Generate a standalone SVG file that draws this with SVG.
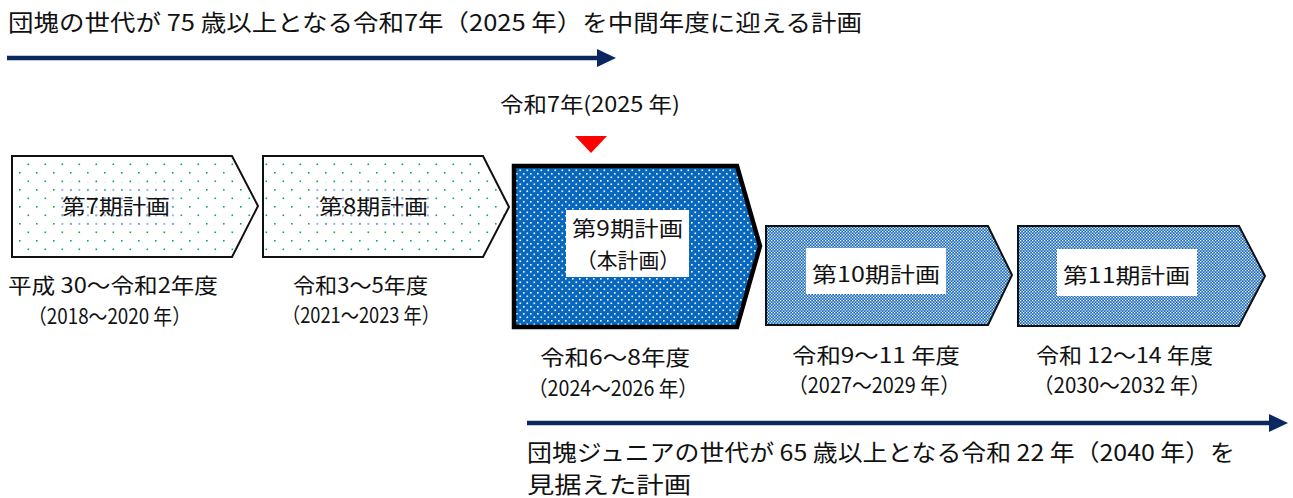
<svg xmlns="http://www.w3.org/2000/svg" width="1293" height="498" viewBox="0 0 1293 498">
<defs>
<style>
text{font-family:"Noto Sans CJK JP","Noto Sans",sans-serif;fill:#111;}
.t20{font-size:21px;}
.t22{font-size:23px;}
.lbl{font-size:21px;}
.thin{stroke:#111;stroke-width:2;stroke-linejoin:miter;}
.thick{stroke:#000;stroke-width:4.5;stroke-linejoin:miter;}
.arrowline{stroke:#0B2760;stroke-width:4.5;}
</style>
<pattern id="greenDots" width="17" height="17" patternUnits="userSpaceOnUse">
<rect width="17" height="17" fill="#fff"/>
<rect x="2" y="2" width="1.6" height="1.6" fill="#00B050"/>
<rect x="10.5" y="10.5" width="1.6" height="1.6" fill="#00B050"/>
</pattern>
<pattern id="blueDotsLight" width="8.5" height="8.5" patternUnits="userSpaceOnUse">
<rect x="2" y="2" width="1.8" height="1.8" fill="#7FA4F0"/>
</pattern>
<pattern id="whiteDots" width="7" height="7" patternUnits="userSpaceOnUse">
<rect width="7" height="7" fill="#0868BE"/>
<rect x="1.5" y="1.5" width="1.6" height="1.6" fill="#fff"/>
<rect x="5" y="5" width="1.6" height="1.6" fill="#fff"/>
</pattern>
<pattern id="checker" width="3" height="3" patternUnits="userSpaceOnUse">
<rect width="3" height="3" fill="#1466BA"/>
<rect x="0" y="0" width="1.3" height="1.3" fill="#fff"/>
<rect x="1.5" y="1.5" width="1.3" height="1.3" fill="#fff"/>
</pattern>
</defs>

<rect width="1293" height="498" fill="#fff"/>

<text class="t22" x="8" y="31" textLength="854" lengthAdjust="spacingAndGlyphs">団塊の世代が 75 歳以上となる令和7年（2025 年）を中間年度に迎える計画</text>

<g id="connectors">
<line class="arrowline" x1="7" y1="58" x2="600" y2="58"/>
<polygon points="597,49 616,58 597,67" fill="#0B2760"/>
<line class="arrowline" x1="527" y1="423" x2="1272" y2="423"/>
<polygon points="1269,414 1288,423 1269,432" fill="#0B2760"/>
</g>

<g id="marker2025">
<text class="t20" x="500" y="112" textLength="180" lengthAdjust="spacingAndGlyphs">令和7年(2025 年)</text>
<polygon points="575,136 607,136 591,153" fill="#FF0000"/>
</g>

<g id="plan7">
<polygon class="thin" points="12,156 232,156 258,206 232,257 12,257" fill="url(#greenDots)"/>
<rect x="60" y="182" width="114" height="46" fill="url(#blueDotsLight)"/>
<text class="lbl" x="62" y="214" textLength="108" lengthAdjust="spacingAndGlyphs">第7期計画</text>
</g>
<g id="plan8">
<polygon class="thin" points="263,156 483,156 509,207 483,257 263,257" fill="url(#greenDots)"/>
<rect x="316" y="182" width="114" height="46" fill="url(#blueDotsLight)"/>
<text class="lbl" x="319" y="214" textLength="109" lengthAdjust="spacingAndGlyphs">第8期計画</text>
</g>
<g id="plan9">
<polygon class="thick" points="514,166 737,166 760,246 737,327 514,327" fill="url(#whiteDots)"/>
<rect x="566" y="210" width="123" height="67" fill="#fff"/>
<text class="lbl" x="572" y="236" textLength="111" lengthAdjust="spacingAndGlyphs">第9期計画</text>
<text class="lbl" x="576" y="268" textLength="104" lengthAdjust="spacingAndGlyphs">（本計画）</text>
</g>
<g id="plan10">
<polygon class="thin" points="766,226 988,226 1012,275 988,325 766,325" fill="url(#checker)"/>
<rect x="806" y="248" width="140" height="46" fill="#fff"/>
<text class="lbl" x="812" y="282" textLength="128" lengthAdjust="spacingAndGlyphs">第10期計画</text>
</g>
<g id="plan11">
<polygon class="thin" points="1018,226 1239,226 1265,276 1239,326 1018,326" fill="url(#checker)"/>
<rect x="1057" y="249" width="140" height="47" fill="#fff"/>
<text class="lbl" x="1063" y="283" textLength="127" lengthAdjust="spacingAndGlyphs">第11期計画</text>
</g>

<g id="dates">
<text class="t20" x="8" y="293" textLength="210" lengthAdjust="spacingAndGlyphs">平成 30～令和2年度</text>
<text class="t20" x="28" y="324" textLength="163" lengthAdjust="spacingAndGlyphs">（2018～2020 年）</text>
<text class="t20" x="293" y="293" textLength="135" lengthAdjust="spacingAndGlyphs">令和3～5年度</text>
<text class="t20" x="282" y="323" textLength="158" lengthAdjust="spacingAndGlyphs">（2021～2023 年）</text>
<text class="t20" x="540" y="365" textLength="150" lengthAdjust="spacingAndGlyphs">令和6～8年度</text>
<text class="t20" x="528" y="396" textLength="170" lengthAdjust="spacingAndGlyphs">（2024～2026 年）</text>
<text class="t20" x="792" y="363" textLength="168" lengthAdjust="spacingAndGlyphs">令和9～11 年度</text>
<text class="t20" x="788" y="393" textLength="172" lengthAdjust="spacingAndGlyphs">（2027～2029 年）</text>
<text class="t20" x="1036" y="363" textLength="177" lengthAdjust="spacingAndGlyphs">令和 12～14 年度</text>
<text class="t20" x="1033" y="393" textLength="178" lengthAdjust="spacingAndGlyphs">（2030～2032 年）</text>
</g>

<text class="t22" x="527" y="461" textLength="708" lengthAdjust="spacingAndGlyphs">団塊ジュニアの世代が 65 歳以上となる令和 22 年（2040 年）を</text>
<text class="t22" x="527" y="493" textLength="164" lengthAdjust="spacingAndGlyphs">見据えた計画</text>
</svg>
